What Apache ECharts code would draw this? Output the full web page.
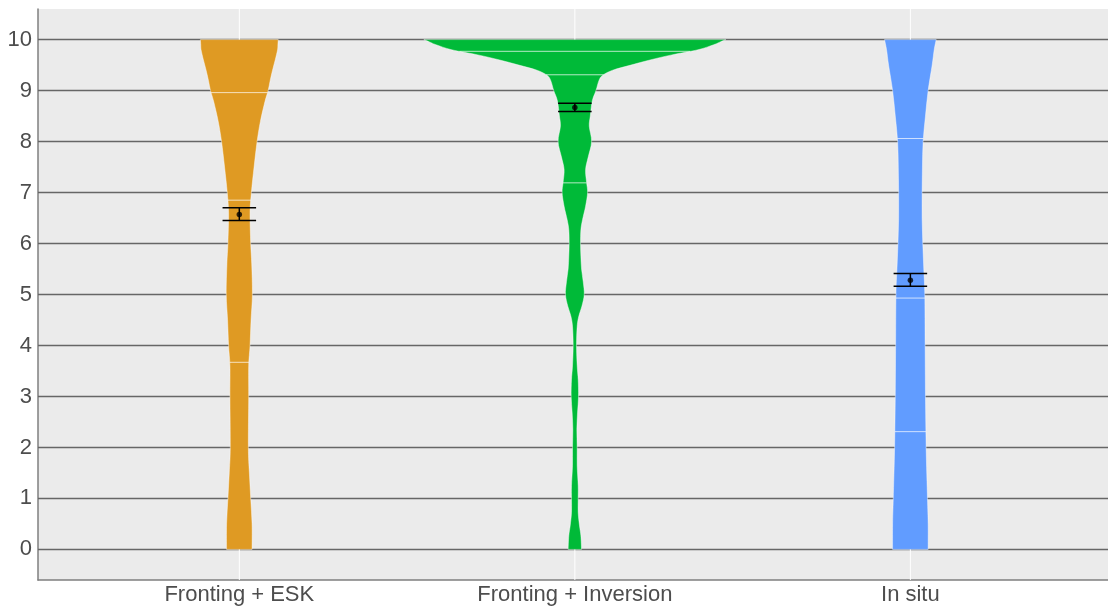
<!DOCTYPE html>
<html>
<head>
<meta charset="utf-8">
<script src="https://cdn.jsdelivr.net/npm/echarts@6/dist/echarts.min.js"></script>
<style>
  html, body { margin: 0; padding: 0; background: #ffffff; }
  #chart { width: 1108px; height: 608px; }
</style>
</head>
<body>
<div id="chart"></div>
<script>
// Word-order conditions and rating scale
const categories = ['Fronting + ESK', 'Fronting + Inversion', 'In situ'];
const yTicks = [0, 1, 2, 3, 4, 5, 6, 7, 8, 9, 10];

// Violin outlines: [rating, half-width of the density in x-axis units], bottom to top
const eskProfile = [
  [0, 0.038], [0.5, 0.038], [1, 0.034], [1.5, 0.030], [2, 0.027], [3, 0.028],
  [3.6, 0.028], [4, 0.032], [4.5, 0.035], [5, 0.039], [5.6, 0.037], [6, 0.034],
  [6.6, 0.032], [7, 0.036], [7.5, 0.044], [8, 0.053], [8.4, 0.063], [8.8, 0.077],
  [9, 0.086], [9.2, 0.092], [9.4, 0.099], [9.6, 0.107], [9.8, 0.114], [9.9, 0.115],
  [10, 0.116]
];
const invProfile = [
  [0, 0.020], [0.27, 0.018], [0.46, 0.014], [0.72, 0.010], [1, 0.010], [1.25, 0.010],
  [1.64, 0.007], [2, 0.007], [2.35, 0.006], [2.68, 0.008], [3, 0.011], [3.33, 0.010],
  [3.6, 0.007], [4, 0.005], [4.38, 0.007], [4.58, 0.012], [4.77, 0.021], [5, 0.028],
  [5.25, 0.025], [5.5, 0.020], [5.75, 0.018], [6, 0.017], [6.27, 0.018], [6.47, 0.023],
  [6.73, 0.032], [7, 0.038], [7.2, 0.035], [7.45, 0.032], [7.7, 0.040], [8, 0.050],
  [8.3, 0.043], [8.5, 0.046], [8.8, 0.052], [9, 0.063], [9.2, 0.072], [9.3, 0.083],
  [9.4, 0.113], [9.5, 0.167], [9.6, 0.224], [9.7, 0.289], [9.8, 0.367], [9.9, 0.414],
  [9.95, 0.432], [10, 0.450]
];
const situProfile = [
  [0, 0.053], [0.5, 0.053], [1, 0.051], [2, 0.047], [3, 0.045], [4, 0.044],
  [5, 0.043], [5.5, 0.040], [6, 0.037], [6.5, 0.035], [7, 0.035], [7.5, 0.036],
  [8, 0.038], [8.5, 0.045], [9, 0.053], [9.5, 0.065], [9.8, 0.071], [10, 0.077]
];

// Quartile lines drawn inside each violin
const eskQuantiles = [3.67, 6.85, 8.96];
const invQuantiles = [7.19, 9.31, 9.77];
const situQuantiles = [2.31, 4.93, 8.06];

// Mean rating with standard-error bounds
const means = [6.57, 8.67, 5.28];
const seLow = [6.45, 8.59, 5.16];
const seHigh = [6.70, 8.75, 5.41];

const profiles = [eskProfile, invProfile, situProfile];
const quantiles = [eskQuantiles, invQuantiles, situQuantiles];
const fills = ['#DF9A23', '#00BA38', '#619CFF'];
const FONT = '"Liberation Sans", Arial, Helvetica, sans-serif';
const TEXT = '#4D4D4D';
const ERR_HALF = 0.05;

function halfWidthAt(profile, y) {
  for (let i = 0; i < profile.length - 1; i++) {
    const a = profile[i], b = profile[i + 1];
    if (y >= a[0] && y <= b[0]) {
      const t = (y - a[0]) / (b[0] - a[0]);
      return a[1] + t * (b[1] - a[1]);
    }
  }
  return profile[profile.length - 1][1];
}

// Catmull-Rom curve through pixel points, returned as SVG cubic segments
function smoothSegments(pts) {
  let d = '';
  for (let i = 0; i < pts.length - 1; i++) {
    const p0 = pts[Math.max(i - 1, 0)], p1 = pts[i];
    const p2 = pts[i + 1], p3 = pts[Math.min(i + 2, pts.length - 1)];
    const c1x = p1[0] + (p2[0] - p0[0]) / 6, c1y = p1[1] + (p2[1] - p0[1]) / 6;
    const c2x = p2[0] - (p3[0] - p1[0]) / 6, c2y = p2[1] - (p3[1] - p1[1]) / 6;
    d += ` C ${c1x} ${c1y} ${c2x} ${c2y} ${p2[0]} ${p2[1]}`;
  }
  return d;
}

const chart = echarts.init(document.getElementById('chart'), null, { renderer: 'canvas' });

const option = {
  animation: false,
  grid: {
    left: 38, right: 0, top: 9, bottom: 28,
    show: true, backgroundColor: '#EBEBEB', borderWidth: 0,
    containLabel: false
  },
  xAxis: {
    type: 'value', min: 0.4, max: 3.589,
    axisLine: { show: true, onZero: false, lineStyle: { color: '#7F7F7F', width: 1.5 } },
    axisTick: { show: false },
    splitLine: { show: false },
    axisLabel: {
      customValues: [1, 2, 3],
      formatter: v => categories[Math.round(v) - 1] || '',
      fontSize: 22, color: TEXT, fontFamily: FONT, margin: 4
    }
  },
  yAxis: {
    type: 'value', min: -0.6, max: 10.6,
    axisLine: { show: true, onZero: false, lineStyle: { color: '#7F7F7F', width: 1.5 } },
    axisTick: { show: false },
    splitLine: { show: false },
    axisLabel: {
      customValues: yTicks,
      fontSize: 22, color: TEXT, fontFamily: FONT, margin: 6
    }
  },
  series: [
    {
      // horizontal reference lines at each rating
      type: 'custom', silent: true, z: 1,
      encode: { x: 0, y: 1 },
      data: yTicks.map(v => [1, v]),
      renderItem: (params, api) => {
        const cs = params.coordSys;
        const y = api.coord([1, api.value(1)])[1];
        return {
          type: 'line',
          shape: { x1: cs.x, y1: y, x2: cs.x + cs.width, y2: y },
          style: { stroke: '#666666', lineWidth: 1.5 }
        };
      }
    },
    {
      // vertical white grid lines at each condition
      type: 'custom', silent: true, z: 1,
      encode: { x: 0, y: 1 },
      data: categories.map((c, i) => [i + 1, 5]),
      renderItem: (params, api) => {
        const cs = params.coordSys;
        const x = api.coord([api.value(0), 5])[0];
        return {
          type: 'line',
          shape: { x1: x, y1: cs.y, x2: x, y2: cs.y + cs.height },
          style: { stroke: '#FFFFFF', lineWidth: 1 }
        };
      }
    },
    {
      // violins with quartile lines
      type: 'custom', silent: true, z: 2,
      encode: { x: 0, y: 1 },
      data: categories.map((c, i) => [i + 1, 5]),
      renderItem: (params, api) => {
        const i = params.dataIndex;
        const cx = api.value(0);
        const prof = profiles[i];
        const right = prof.map(p => api.coord([cx + p[1], p[0]]));
        const left = prof.slice().reverse().map(p => api.coord([cx - p[1], p[0]]));
        let d = `M ${right[0][0]} ${right[0][1]}` + smoothSegments(right);
        d += ` L ${left[0][0]} ${left[0][1]}` + smoothSegments(left) + ' Z';
        const children = [{
          type: 'path',
          shape: { pathData: d },
          style: { fill: fills[i], stroke: 'rgba(255,255,255,0.55)', lineWidth: 0.8 }
        }];
        quantiles[i].forEach(q => {
          const hw = halfWidthAt(prof, q);
          const a = api.coord([cx - hw, q]);
          const b = api.coord([cx + hw, q]);
          children.push({
            type: 'line',
            shape: { x1: a[0], y1: a[1], x2: b[0], y2: b[1] },
            style: { stroke: 'rgba(255,255,255,0.7)', lineWidth: 1 }
          });
        });
        return { type: 'group', children };
      }
    },
    {
      // standard-error bars around the mean
      type: 'custom', silent: true, z: 3,
      encode: { x: 0, y: 1 },
      data: means.map((m, i) => [i + 1, m, seLow[i], seHigh[i]]),
      renderItem: (params, api) => {
        const cx = api.value(0);
        const lo = api.value(2), hi = api.value(3);
        const l1 = api.coord([cx - ERR_HALF, lo]), r1 = api.coord([cx + ERR_HALF, lo]);
        const l2 = api.coord([cx - ERR_HALF, hi]), r2 = api.coord([cx + ERR_HALF, hi]);
        const st = { stroke: '#000000', lineWidth: 1.5 };
        return {
          type: 'group',
          children: [
            { type: 'line', shape: { x1: l1[0], y1: l1[1], x2: r1[0], y2: r1[1] }, style: st },
            { type: 'line', shape: { x1: l2[0], y1: l2[1], x2: r2[0], y2: r2[1] }, style: st },
            { type: 'line', shape: { x1: (l1[0] + r1[0]) / 2, y1: l1[1], x2: (l2[0] + r2[0]) / 2, y2: l2[1] }, style: st }
          ]
        };
      }
    },
    {
      // mean points
      type: 'scatter', silent: true, z: 4,
      symbol: 'circle', symbolSize: 5.5,
      itemStyle: { color: '#000000' },
      data: means.map((m, i) => [i + 1, m])
    }
  ]
};

chart.setOption(option);
</script>
</body>
</html>
